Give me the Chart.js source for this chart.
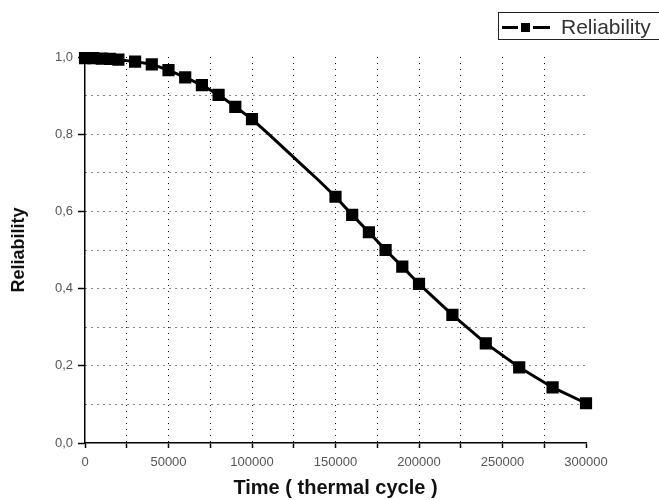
<!DOCTYPE html>
<html>
<head>
<meta charset="utf-8">
<script src="https://cdn.jsdelivr.net/npm/chart.js@4/dist/chart.umd.min.js"></script>
<style>
  html, body { margin: 0; padding: 0; background: #fff; }
  #wrap { width: 659px; height: 500px; }
</style>
</head>
<body>
<div id="wrap"><canvas id="grafico"></canvas></div>
<script>
// dados
const tempoCiclos = [0, 5000, 10000, 15000, 20000, 30000, 40000, 50000, 60000, 70000, 80000, 90000, 100000,
  110000, 120000, 130000, 140000, 150000, 160000, 170000, 180000, 190000, 200000,
  220000, 240000, 260000, 280000, 300000];
const confiabilidade = [0.997, 0.997, 0.996, 0.995, 0.993, 0.988, 0.981, 0.966, 0.947, 0.927, 0.902, 0.871, 0.839,
  0.80, 0.76, 0.72, 0.68, 0.638, 0.591, 0.546, 0.50, 0.457, 0.412,
  0.332, 0.258, 0.196, 0.144, 0.103];
const xTicks = [0, 50000, 100000, 150000, 200000, 250000, 300000];
const yTicks = [0, 0.2, 0.4, 0.6, 0.8, 1.0];
const nomeSerie = "Reliability";

const fonte = 'Arial, "Liberation Sans", sans-serif';

// ---------------------------------------------------------------------------
// legenda com caixa (canto superior direito)
// ---------------------------------------------------------------------------
const legendaCaixa = {
  id: "legendaCaixa",
  afterDraw(chart) {
    const ctx = chart.ctx;
    ctx.save();
    ctx.strokeStyle = "#222";
    ctx.lineWidth = 1;
    ctx.strokeRect(498.5, 12.5, 180, 27);
    ctx.strokeStyle = "#000";
    ctx.lineWidth = 3;
    ctx.beginPath();
    ctx.moveTo(502, 27.5);
    ctx.lineTo(518, 27.5);
    ctx.moveTo(533, 27.5);
    ctx.lineTo(550, 27.5);
    ctx.stroke();
    ctx.fillStyle = "#000";
    ctx.fillRect(521, 23, 9, 9);
    ctx.fillStyle = "#333";
    ctx.font = "21px " + fonte;
    ctx.textBaseline = "alphabetic";
    ctx.fillText(nomeSerie, 561, 34);
    ctx.restore();
  }
};

const pontos = tempoCiclos.map((t, i) => ({ x: t, y: confiabilidade[i] }));

new Chart(document.getElementById("grafico").getContext("2d"), {
  type: "line",
  data: {
    datasets: [{
      label: nomeSerie,
      data: pontos,
      borderColor: "#000",
      backgroundColor: "#000",
      borderWidth: 3,
      tension: 0,
      pointStyle: "rect",
      // sem marcadores entre 100000 e 150000
      pointRadius: c => {
        const x = c.raw ? c.raw.x : 0;
        return (x <= 100000 || x >= 150000) ? 6.5 : 0;
      },
      pointHoverRadius: 6.5,
      clip: false
    }]
  },
  options: {
    responsive: true,
    maintainAspectRatio: false,
    animation: false,
    events: [],
    layout: { padding: { top: 57, right: 73, left: 0, bottom: 0 } },
    plugins: { legend: { display: false }, tooltip: { enabled: false } },
    scales: {
      x: {
        type: "linear",
        min: 0,
        max: 300000,
        afterFit: s => { s.height = 57; },
        ticks: {
          stepSize: 25000,
          autoSkip: false,
          maxRotation: 0,
          color: "#555",
          font: { family: fonte, size: 13 },
          padding: 7,
          callback: v => xTicks.includes(v) ? String(v) : ""
        },
        grid: {
          color: c => (c.tick && (c.tick.value === 0 || c.tick.value === 300000)) ? "rgba(0,0,0,0)" : "#111",
          tickColor: "#000",
          tickBorderDash: [],
          tickWidth: 1.5,
          tickLength: 5
        },
        border: { color: "#000", width: 1.5, dash: [1, 5] },
        title: {
          display: true,
          text: "Time ( thermal cycle )",
          color: "#111",
          font: { family: fonte, size: 20, weight: "bold" },
          padding: { top: 0, bottom: 0 }
        }
      },
      y: {
        min: 0,
        max: 1,
        afterFit: s => { s.width = 85; },
        ticks: {
          stepSize: 0.1,
          autoSkip: false,
          color: "#555",
          font: { family: fonte, size: 13 },
          padding: 5,
          callback: v => {
            const r = Math.round(v * 10) / 10;
            return yTicks.includes(r) ? r.toFixed(1).replace(".", ",") : "";
          }
        },
        grid: {
          color: c => (c.tick && (c.tick.value === 0 || Math.round(c.tick.value * 10) === 10)) ? "rgba(0,0,0,0)" : "#111",
          tickColor: c => (c.tick && Math.round(c.tick.value * 10) % 2 === 0) ? "#000" : "rgba(0,0,0,0)",
          tickBorderDash: [],
          tickWidth: 1.5,
          tickLength: 7
        },
        border: { color: "#000", width: 1.5, dash: [1, 5] },
        title: {
          display: true,
          text: "Reliability",
          color: "#111",
          font: { family: fonte, size: 18, weight: "bold" },
          padding: { top: 8, bottom: 0 }
        }
      }
    }
  },
  plugins: [legendaCaixa]
});
</script>
</body>
</html>
